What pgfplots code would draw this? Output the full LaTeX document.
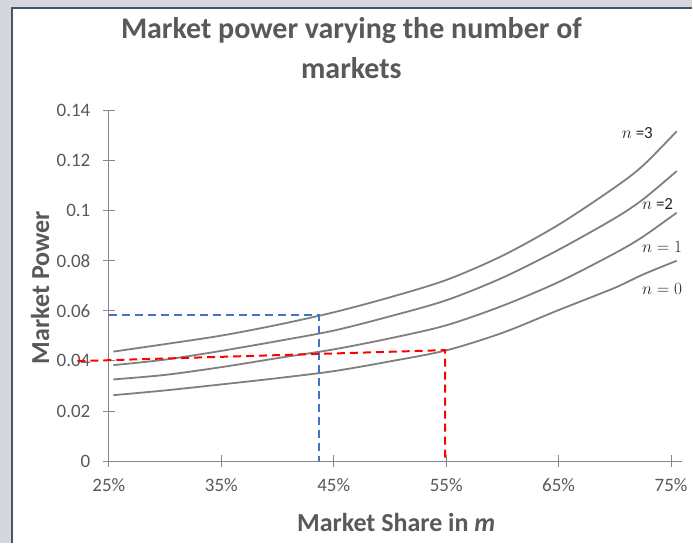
\documentclass[border=0pt]{standalone}
\usepackage{pgfplots}
\pgfplotsset{compat=1.18}
\usepackage{pgfplotstable}
\usepackage{fontspec}
\setmainfont{Carlito}
\definecolor{txtgray}{HTML}{595959}
\definecolor{axgray}{HTML}{868686}
\definecolor{curvegray}{HTML}{7F7F7F}
\definecolor{bgout}{HTML}{D4D7DC}
\definecolor{frame}{HTML}{44546A}
\definecolor{dblue}{HTML}{4472C4}
\definecolor{dred}{HTML}{FF0000}
\pgfplotstableread{
x     n0     n1     n2     n3
25.4  0.0263 0.0326 0.0383 0.0437
30    0.0282 0.0344 0.0405 0.0467
35    0.0306 0.0375 0.0440 0.0501
40    0.0331 0.0411 0.0479 0.0544
45    0.0359 0.0446 0.0521 0.0594
50    0.0398 0.0490 0.0578 0.0654
55    0.0442 0.0542 0.0642 0.0723
60    0.0512 0.0620 0.0732 0.0820
65    0.0603 0.0715 0.0844 0.0944
70    0.0692 0.0830 0.0970 0.1093
72.5  0.0745 0.0896 0.1045 0.1180
75.5  0.0800 0.0992 0.1158 0.1317
}\curves
\begin{document}
\begin{tikzpicture}[x=1pt,y=1pt]
\fill[bgout] (0,0) rectangle (693,544);
\fill[white] (12,0) rectangle (693,536);
\draw[frame,line width=2pt] (12,0) -- (12,536) -- (693,536);
\path[use as bounding box] (0,0) rectangle (693,544);
\begin{axis}[
  at={(109pt,82.3pt)}, anchor=south west,
  scale only axis, width=574.3pt, height=351pt,
  xmin=25, xmax=76, ymin=0, ymax=0.14,
  clip=false,
  axis lines*=left,
  axis line style={axgray, line width=0.9pt, -},
  every tick/.style={axgray, line width=0.9pt},
  major tick length=12pt, tick align=center,
  xtick={25,35,45,55,65,75},
  xticklabels={25\%,35\%,45\%,55\%,65\%,75\%},
  ytick={0,0.02,0.04,0.06,0.08,0.1,0.12,0.14},
  yticklabels={0,0.02,0.04,0.06,0.08,0.1,0.12,0.14},
  tick label style={font=\fontsize{19}{22}\selectfont, text=txtgray},
  xticklabel style={yshift=-8pt},
  yticklabel style={xshift=-9pt},
  title={Market power varying the number of\\markets},
  title style={font=\bfseries\fontsize{30}{40}\selectfont, text=txtgray, align=center,
    at={(axis description cs:0.423,1.162)}, anchor=center},
  xlabel={Market Share in \textit{m}},
  xlabel style={font=\bfseries\fontsize{26}{30}\selectfont, text=txtgray,
    at={(axis description cs:0.501,-0.175)}, anchor=center},
  ylabel={Market Power},
  ylabel style={font=\bfseries\fontsize{26}{30}\selectfont, text=txtgray,
    at={(axis description cs:-0.120,0.495)}, anchor=center, rotate=0},
]
\addplot[curvegray, line width=1.8pt, smooth] table[x=x,y=n0] {\curves};
\addplot[curvegray, line width=1.8pt, smooth] table[x=x,y=n1] {\curves};
\addplot[curvegray, line width=1.8pt, smooth] table[x=x,y=n2] {\curves};
\addplot[curvegray, line width=1.8pt, smooth] table[x=x,y=n3] {\curves};
\addplot[dblue, line width=2pt, dash pattern=on 8pt off 5pt] coordinates {(25,0.0582) (43.7,0.0582) (43.7,0)};
\addplot[dred, line width=2pt, dash pattern=on 8pt off 5pt] coordinates {(22.2,0.0399) (54.9,0.0443) (54.9,0)};
\node[font=\fontsize{17}{20}\selectfont, text=black!85] at (axis cs:72.0,0.1312) {$n$ =3};
\node[font=\fontsize{17}{20}\selectfont, text=black!85] at (axis cs:73.8,0.1025) {$n$ =2};
\node[font=\fontsize{17}{20}\selectfont, text=black!85] at (axis cs:74.2,0.0857) {$n = 1$};
\node[font=\fontsize{17}{20}\selectfont, text=black!85] at (axis cs:74.2,0.0686) {$n = 0$};
\end{axis}
\end{tikzpicture}
\end{document}
